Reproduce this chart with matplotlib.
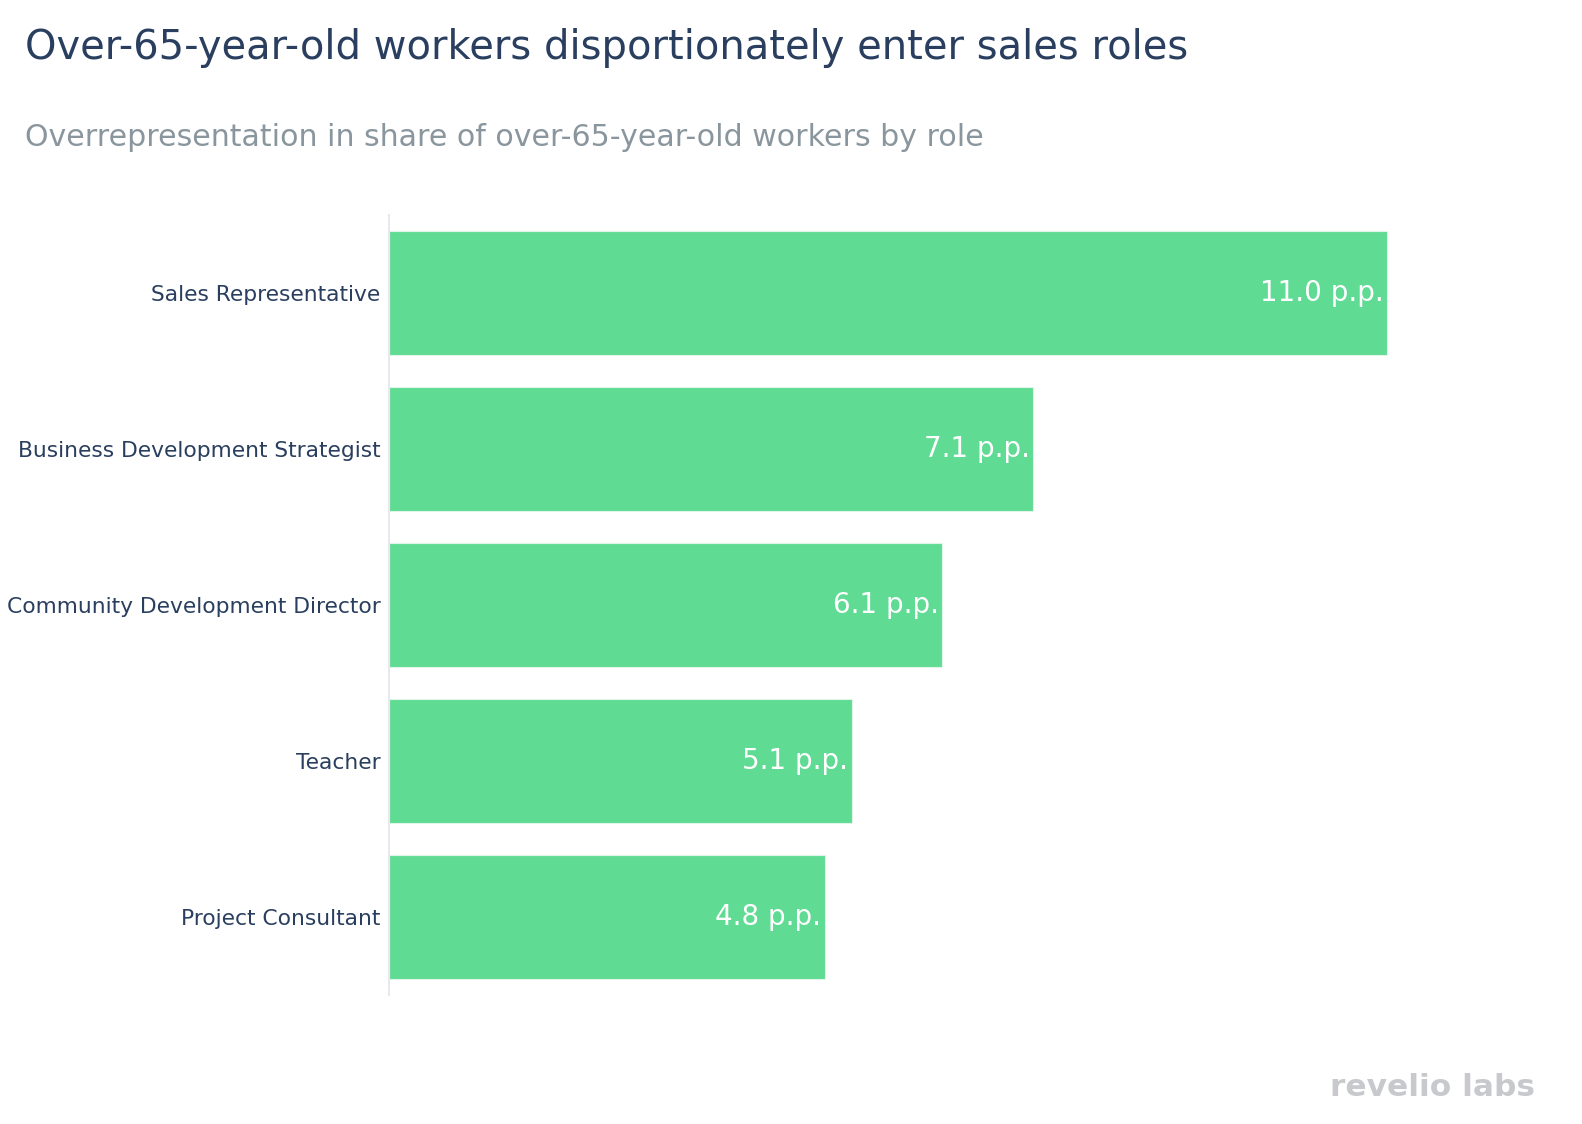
import matplotlib
matplotlib.use("Agg")
import matplotlib.pyplot as plt

# datos del gráfico
roles = ["Sales Representative", "Business Development Strategist",
         "Community Development Director", "Teacher", "Project Consultant"]
valores = [11.0, 7.1, 6.1, 5.1, 4.8]
etiquetas = ["11.0 p.p.", "7.1 p.p.", "6.1 p.p.", "5.1 p.p.", "4.8 p.p."]

titulo = "Over-65-year-old workers disportionately enter sales roles"
subtitulo = "Overrepresentation in share of over-65-year-old workers by role"

plt.rcParams['font.family'] = ['DejaVu Sans']

fig = plt.figure(figsize=(15.82, 11.24), dpi=100)
ax = fig.add_axes([389 / 1582, 1 - 995 / 1124, 1048 / 1582, 780 / 1124])

y = list(range(len(roles)))
ax.barh(y, valores, height=0.8, color='#5fdb93', edgecolor='#dff5e8', linewidth=0.8)

for i, (v, t) in enumerate(zip(valores, etiquetas)):
    ax.text(v - 0.04, i, t, ha='right', va='center', color='white', fontsize=20)

ax.set_xlim(0, 11.55)
ax.set_ylim(len(roles) - 0.5, -0.5)
ax.set_yticks(y)
ax.set_yticklabels(roles, fontsize=15.7, color='#2a3f5f')
ax.tick_params(axis='y', length=0, pad=6)
ax.set_xticks([])
for lado in ['top', 'right', 'bottom']:
    ax.spines[lado].set_visible(False)
ax.spines['left'].set_color('#e8e8ee')
ax.spines['left'].set_linewidth(1.5)

fig.text(25 / 1582, 1 - 48 / 1124, titulo, fontsize=28.8, color='#2a3f5f', va='center', ha='left')
fig.text(25 / 1582, 1 - 138 / 1124, subtitulo, fontsize=21.6, color='#8a969e', va='center', ha='left')

# logo como texto
fig.text(1535 / 1582, 1 - 1087 / 1124, "revelio labs", fontsize=22.5, fontweight='bold',
         color='#c8c9cd', ha='right', va='center')

fig.savefig('out.png', dpi=100)
